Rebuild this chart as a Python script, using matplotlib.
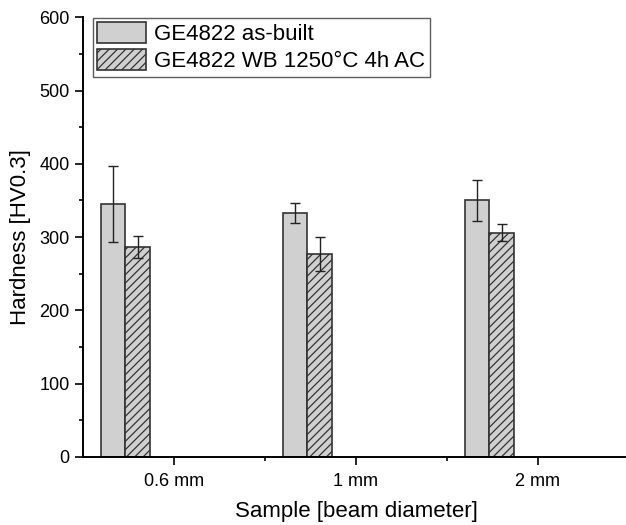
import matplotlib
matplotlib.use("Agg")
import matplotlib.pyplot as plt
import numpy as np
from matplotlib.ticker import MultipleLocator, FixedLocator

plt.rcParams['font.family'] = ['Liberation Sans', 'DejaVu Sans']
plt.rcParams['hatch.linewidth'] = 0.9
plt.rcParams['hatch.color'] = '#333333'

categories = ["0.6 mm", "1 mm", "2 mm"]
asbuilt = [345, 333, 350]
asbuilt_err = [52, 14, 28]
wb = [286, 277, 306]
wb_err = [15, 23, 12]
labels = ["GE4822 as-built", "GE4822 WB 1250°C 4h AC"]

fig = plt.figure(figsize=(6.26, 5.25), dpi=100)
ax = fig.add_axes([0.1326, 0.130, 0.872, 0.837])

x = np.arange(1, len(categories) + 1)
w = 0.135
ekw = dict(ecolor='#222222', elinewidth=1.0, capsize=3.5, capthick=1.0)
ax.bar(x - 0.335, asbuilt, w, color='#d0d0d0', edgecolor='#333333', linewidth=1.2,
       yerr=asbuilt_err, error_kw=ekw, label=labels[0], zorder=2)
ax.bar(x - 0.2, wb, w, color='#d0d0d0', edgecolor='#333333', linewidth=1.2, hatch='////',
       yerr=wb_err, error_kw=ekw, label=labels[1], zorder=2)

ax.set_xlim(0.5, 3.5)
ax.set_ylim(0, 600)
ax.set_xticks(x)
ax.set_xticklabels(categories, fontsize=13)
ax.xaxis.set_minor_locator(FixedLocator([1.5, 2.5]))
ax.yaxis.set_major_locator(MultipleLocator(100))
ax.yaxis.set_minor_locator(MultipleLocator(50))
ax.tick_params(axis='y', labelsize=13)
ax.tick_params(which='major', direction='out', length=5.5, width=1.2, pad=4)
ax.tick_params(which='minor', direction='out', length=3, width=1.2)
ax.tick_params(axis='x', which='major', pad=6)

for s in ['top', 'right']:
    ax.spines[s].set_visible(False)
for s in ['left', 'bottom']:
    ax.spines[s].set_linewidth(1.4)

ax.set_xlabel("Sample [beam diameter]", fontsize=16, labelpad=8)
ax.set_ylabel("Hardness [HV0.3]", fontsize=16, labelpad=6)

leg = ax.legend(loc='upper left', bbox_to_anchor=(93/626, 1 - 18/525), bbox_transform=fig.transFigure,
                fontsize=16, frameon=True, fancybox=False, handlelength=2.2, handleheight=1.05,
                labelspacing=0.18, handletextpad=0.35, borderpad=0.2, borderaxespad=0)
leg.get_frame().set_edgecolor('#333333')
leg.get_frame().set_linewidth(1.0)

fig.savefig("out.png", dpi=100)
